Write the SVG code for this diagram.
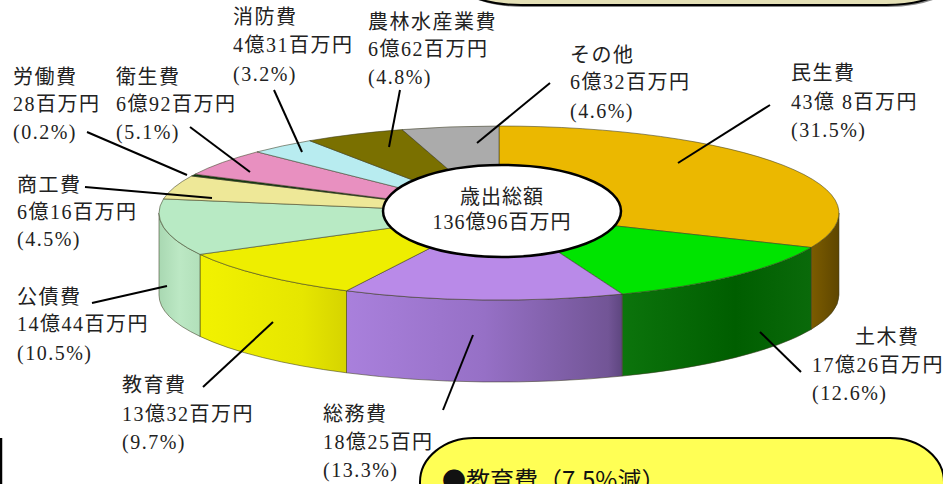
<svg xmlns="http://www.w3.org/2000/svg" width="943" height="484" viewBox="0 0 943 484">
<style>
.lbl{font-family:"Liberation Serif","Noto Sans CJK JP",serif;font-size:20px;fill:#222;letter-spacing:1.5px}
.ctr{font-family:"Liberation Serif","Noto Sans CJK JP",serif;font-size:20px;fill:#222;text-anchor:middle;letter-spacing:1px}
.top{stroke:#3a3a20;stroke-opacity:0.55;stroke-width:1;stroke-linejoin:round}
.side{stroke:#3a3a20;stroke-opacity:0.55;stroke-width:1;stroke-linejoin:round}
.lead{stroke:#000;stroke-width:2;fill:none}
</style>
<defs>
<linearGradient id="gMinsei" gradientUnits="userSpaceOnUse" x1="811" y1="0" x2="839" y2="0"><stop offset="0" stop-color="#7C5C00"/><stop offset="1" stop-color="#5E4600"/></linearGradient>
<linearGradient id="gDoboku" gradientUnits="userSpaceOnUse" x1="622" y1="0" x2="811" y2="0"><stop offset="0" stop-color="#0C740C"/><stop offset="0.6" stop-color="#005E00"/><stop offset="1" stop-color="#0A6A0A"/></linearGradient>
<linearGradient id="gSomu" gradientUnits="userSpaceOnUse" x1="346" y1="0" x2="622" y2="0"><stop offset="0" stop-color="#A980DC"/><stop offset="0.5" stop-color="#9670C6"/><stop offset="0.95" stop-color="#725596"/><stop offset="1" stop-color="#5E4680"/></linearGradient>
<linearGradient id="gKyoiku" gradientUnits="userSpaceOnUse" x1="200" y1="0" x2="346" y2="0"><stop offset="0" stop-color="#F2F200"/><stop offset="0.7" stop-color="#E6E600"/><stop offset="1" stop-color="#D6D400"/></linearGradient>
<linearGradient id="gKosai" gradientUnits="userSpaceOnUse" x1="159" y1="0" x2="200" y2="0"><stop offset="0" stop-color="#A9D8B2"/><stop offset="0.5" stop-color="#BCE8C4"/><stop offset="1" stop-color="#B2E0BA"/></linearGradient>
</defs>

<!-- top-right box (partially visible) -->
<g id="box-top">
<rect x="453" y="-58" width="505" height="65" rx="70" ry="30" fill="#555" opacity="0.7"/>
<rect x="451" y="-60" width="505" height="65" rx="70" ry="30" fill="#E4E0B6" stroke="#000" stroke-width="2"/>
</g>

<!-- bottom-left box edge -->
<g id="box-left">
<line x1="1" y1="438" x2="1" y2="484" stroke="#000" stroke-width="2.5"/>
</g>

<!-- pie sides -->
<g id="pie-sides">
<path class="side" fill="url(#gMinsei)" d="M839,213 A340,87 0 0 1 811.1,247.5 L811.1,329.5 A340,87 0 0 0 839,295 Z"/>
<path class="side" fill="url(#gDoboku)" d="M811.1,247.5 A340,87 0 0 1 622.2,294.1 L622.2,376.1 A340,87 0 0 0 811.1,329.5 Z"/>
<path class="side" fill="url(#gSomu)" d="M622.2,294.1 A340,87 0 0 1 346.5,290.8 L346.5,372.8 A340,87 0 0 0 622.2,376.1 Z"/>
<path class="side" fill="url(#gKyoiku)" d="M346.5,290.8 A340,87 0 0 1 200,254.4 L200,336.4 A340,87 0 0 0 346.5,372.8 Z"/>
<path class="side" fill="url(#gKosai)" d="M200,254.4 A340,87 0 0 1 159,213 L159,295 A340,87 0 0 0 200,336.4 Z"/>
</g>

<!-- pie tops -->
<g id="slice-minsei"><path class="top" fill="#EBB800" d="M499,213 L499,126 A340,87 0 0 1 811.1,247.5 Z"/></g>
<g id="slice-doboku"><path class="top" fill="#00E400" d="M499,213 L811.1,247.5 A340,87 0 0 1 622.2,294.1 Z"/></g>
<g id="slice-somu"><path class="top" fill="#B98AE8" d="M499,213 L622.2,294.1 A340,87 0 0 1 346.5,290.8 Z"/></g>
<g id="slice-kyoiku"><path class="top" fill="#EEEE00" d="M499,213 L346.5,290.8 A340,87 0 0 1 200,254.4 Z"/></g>
<g id="slice-kosai"><path class="top" fill="#B8EAC4" d="M499,213 L200,254.4 A340,87 0 0 1 163.5,198.9 Z"/></g>
<g id="slice-shoko"><path class="top" fill="#EEE898" d="M499,213 L163.5,198.9 A340,87 0 0 1 191.5,176 Z"/></g>
<g id="slice-rodo"><path class="top" fill="#0E3A10" d="M499,213 L191.5,176 A340,87 0 0 1 195,174.2 Z"/></g>
<g id="slice-eisei"><path class="top" fill="#E890C0" d="M499,213 L195,174.2 A340,87 0 0 1 257.1,151.9 Z"/></g>
<g id="slice-shobo"><path class="top" fill="#B8ECF0" d="M499,213 L257.1,151.9 A340,87 0 0 1 309.7,140.7 Z"/></g>
<g id="slice-norin"><path class="top" fill="#7A7000" d="M499,213 L309.7,140.7 A340,87 0 0 1 402.1,129.6 Z"/></g>
<g id="slice-sonota"><path class="top" fill="#ABABAB" d="M499,213 L402.1,129.6 A340,87 0 0 1 499,126 Z"/></g>

<!-- center total -->
<g id="total">
<ellipse cx="502" cy="211" rx="119" ry="46" fill="#fff" stroke="#000" stroke-width="2.5"/>
<text class="ctr" x="502" y="204">歳出総額</text>
<text class="ctr" x="502" y="229">136億96百万円</text>
</g>

<!-- leader lines -->
<g id="connectors">
<line class="lead" x1="770" y1="105" x2="678" y2="163"/>
<line class="lead" x1="550" y1="83" x2="477" y2="143"/>
<line class="lead" x1="400" y1="90" x2="389" y2="147"/>
<line class="lead" x1="274" y1="90" x2="302" y2="152"/>
<line class="lead" x1="190" y1="127" x2="250" y2="172"/>
<line class="lead" x1="87" y1="132" x2="187" y2="175"/>
<line class="lead" x1="85" y1="187" x2="212" y2="198"/>
<line class="lead" x1="92" y1="303" x2="167" y2="286"/>
<line class="lead" x1="203" y1="387" x2="273" y2="322"/>
<line class="lead" x1="443" y1="410" x2="473" y2="335"/>
<line class="lead" x1="801" y1="372" x2="760" y2="332"/>
</g>

<!-- labels -->
<g id="lbl-shobo"><text class="lbl" x="233" y="24">消防費</text><text class="lbl" x="233" y="52">4億31百万円</text><text class="lbl" x="233" y="81">(3.2%)</text></g>
<g id="lbl-norin"><text class="lbl" x="368" y="29">農林水産業費</text><text class="lbl" x="368" y="56">6億62百万円</text><text class="lbl" x="368" y="84">(4.8%)</text></g>
<g id="lbl-sonota"><text class="lbl" x="570" y="62">その他</text><text class="lbl" x="570" y="89">6億32百万円</text><text class="lbl" x="570" y="118">(4.6%)</text></g>
<g id="lbl-minsei"><text class="lbl" x="791" y="80">民生費</text><text class="lbl" x="791" y="109">43億 8百万円</text><text class="lbl" x="791" y="137">(31.5%)</text></g>
<g id="lbl-rodo"><text class="lbl" x="13" y="84">労働費</text><text class="lbl" x="13" y="111">28百万円</text><text class="lbl" x="13" y="139">(0.2%)</text></g>
<g id="lbl-eisei"><text class="lbl" x="116" y="84">衛生費</text><text class="lbl" x="116" y="111">6億92百万円</text><text class="lbl" x="116" y="139">(5.1%)</text></g>
<g id="lbl-shoko"><text class="lbl" x="17" y="192">商工費</text><text class="lbl" x="17" y="219">6億16百万円</text><text class="lbl" x="17" y="246">(4.5%)</text></g>
<g id="lbl-kosai"><text class="lbl" x="17" y="304">公債費</text><text class="lbl" x="17" y="331">14億44百万円</text><text class="lbl" x="17" y="360">(10.5%)</text></g>
<g id="lbl-kyoiku"><text class="lbl" x="122" y="392">教育費</text><text class="lbl" x="122" y="421">13億32百万円</text><text class="lbl" x="122" y="449">(9.7%)</text></g>
<g id="lbl-somu"><text class="lbl" x="323" y="421">総務費</text><text class="lbl" x="323" y="449">18億25百円</text><text class="lbl" x="323" y="477">(13.3%)</text></g>
<g id="lbl-doboku"><text class="lbl" x="855" y="344">土木費</text><text class="lbl" x="812" y="372">17億26百万円</text><text class="lbl" x="812" y="400">(12.6%)</text></g>

<!-- bottom-right note box -->
<g id="box-note">
<rect x="420" y="438" width="524" height="100" rx="54" ry="44" fill="#FFFF55" stroke="#000" stroke-width="2"/>
<text x="442" y="489" font-family="'Noto Sans CJK JP','Liberation Sans',sans-serif" font-size="24" fill="#111">●教育費（7.5%減）</text>
</g>
</svg>
